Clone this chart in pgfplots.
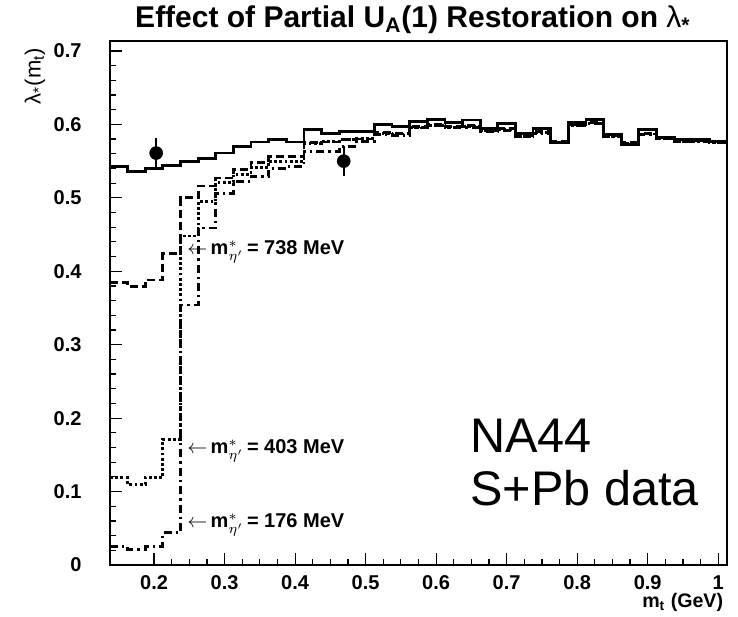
\documentclass[border=0pt]{standalone}
\usepackage{fontspec}
\setmainfont{Liberation Sans}
\usepackage{pgfplots}
\usepackage{pgfplotstable}
\pgfplotsset{compat=1.18}

\pgfplotstableread{
x solid dashed dotted dashdot
0.1375 0.543 0.385 0.119 0.025
0.1625 0.536 0.379 0.110 0.021
0.1875 0.540 0.388 0.119 0.025
0.2125 0.544 0.424 0.171 0.044
0.2375 0.549 0.500 0.448 0.354
0.2625 0.554 0.516 0.495 0.459
0.2875 0.561 0.527 0.521 0.506
0.3125 0.570 0.539 0.532 0.522
0.3375 0.576 0.548 0.541 0.529
0.3625 0.579 0.556 0.550 0.540
0.3875 0.576 0.556 0.550 0.543
0.4125 0.593 0.575 0.574 0.563
0.4375 0.588 0.576 0.577 0.563
0.4625 0.590 0.579 0.579 0.570
0.4875 0.590 0.580 0.581 0.577
0.5125 0.600 0.589 0.588 0.586
0.5375 0.597 0.588 0.587 0.585
0.5625 0.604 0.597 0.596 0.595
0.5875 0.607 0.600 0.599 0.598
0.6125 0.603 0.597 0.596 0.596
0.6375 0.606 0.598 0.597 0.596
0.6625 0.594 0.592 0.591 0.590
0.6875 0.601 0.594 0.593 0.592
0.7125 0.588 0.585 0.584 0.583
0.7375 0.594 0.590 0.589 0.588
0.7625 0.575 0.577 0.576 0.576
0.7875 0.603 0.600 0.599 0.598
0.8125 0.607 0.603 0.602 0.601
0.8375 0.586 0.585 0.584 0.583
0.8625 0.572 0.575 0.574 0.573
0.8875 0.593 0.588 0.587 0.586
0.9125 0.582 0.581 0.580 0.580
0.9375 0.579 0.577 0.577 0.576
0.9625 0.580 0.578 0.577 0.577
0.9875 0.577 0.576 0.575 0.575
1.0125 0.577 0.576 0.575 0.575
}\hist

\begin{document}
\begin{tikzpicture}
\begin{axis}[
  scale only axis,
  width=308.5pt, height=262pt,
  xmin=0.1375, xmax=1.0125,
  ymin=0, ymax=0.7136,
  clip=false,
  axis line style={line width=1pt},
  tick align=inside,
  xtick pos=bottom, ytick pos=left,
  xtick={0.2,0.3,0.4,0.5,0.6,0.7,0.8,0.9,1.0},
  xticklabels={0.2,0.3,0.4,0.5,0.6,0.7,0.8,0.9,1},
  ytick={0,0.1,0.2,0.3,0.4,0.5,0.6,0.7},
  yticklabels={0\hspace{-5.5pt},0.1,0.2,0.3,0.4,0.5,0.6,0.7},
  minor x tick num=3,
  minor y tick num=4,
  major tick length=6pt,
  minor tick length=3pt,
  every tick/.style={black, line width=0.6pt},
  xticklabel style={font=\fontsize{10}{12}\selectfont\bfseries, yshift=-1.7pt},
  yticklabel style={font=\fontsize{10}{12}\selectfont\bfseries, xshift=-10.7pt},
  title={\bfseries Effect of Partial U\textsubscript{A}(1) Restoration on {\mdseries λ}\textsubscript{*}},
  title style={font=\fontsize{15}{18}\selectfont, at={(axis description cs:0.491,1)}, anchor=base, yshift=0.5pt},
  xlabel={\bfseries m\textsubscript{t} (GeV)},
  xlabel style={font=\fontsize{9.8}{11}\selectfont, at={(axis description cs:1.005,-0.082)}, anchor=base east},
  ylabel={λ\textsubscript{*}(m\textsubscript{t})},
  ylabel style={font=\fontsize{11}{12}\selectfont, at={(axis description cs:-0.1216,1)}, anchor=east},
]
\addplot[const plot mark left, black, line width=1.4pt] table[x=x, y=solid] {\hist};
\addplot[const plot mark left, black, line width=1.4pt, dash pattern=on 4pt off 2pt] table[x=x, y=dashed] {\hist};
\addplot[const plot mark left, black, line width=1.4pt, dash pattern=on 1.4pt off 1.2pt] table[x=x, y=dotted] {\hist};
\addplot[const plot mark left, black, line width=1.4pt, dash pattern=on 4pt off 2pt on 1.2pt off 2pt] table[x=x, y=dashdot] {\hist};
\addplot[only marks, black, mark=*, mark size=3.2pt,
  error bars/.cd, y dir=both, y explicit, error mark=none,
  error bar style={line width=1.2pt}]
  coordinates {(0.203,0.561) +- (0,0.021) (0.469,0.550) +- (0,0.020)};

\node[anchor=west, font=\fontsize{10}{12}\selectfont, inner sep=0pt] at (axis cs:0.2467,0.4264) {$\leftarrow$\,\textbf{m}$^{*}_{\eta'}$\,\textbf{= 738 MeV}};
\node[anchor=west, font=\fontsize{10}{12}\selectfont, inner sep=0pt] at (axis cs:0.2467,0.1557) {$\leftarrow$\,\textbf{m}$^{*}_{\eta'}$\,\textbf{= 403 MeV}};
\node[anchor=west, font=\fontsize{10}{12}\selectfont, inner sep=0pt] at (axis cs:0.2467,0.0545) {$\leftarrow$\,\textbf{m}$^{*}_{\eta'}$\,\textbf{= 176 MeV}};

\node[anchor=base west, font=\fontsize{24.3}{29}\selectfont, inner sep=0pt] at (axis cs:0.648,0.1526) {NA44};
\node[anchor=base west, font=\fontsize{24.3}{29}\selectfont, inner sep=0pt] at (axis cs:0.648,0.0817) {S+Pb data};

\path (rel axis cs:0,0) ++(-55pt,-25.5pt) coordinate (bl);
\path (rel axis cs:1,1) ++(5.5pt,20.5pt) coordinate (tr);
\end{axis}
\pgfresetboundingbox
\path[use as bounding box] (bl) rectangle (tr);
\end{tikzpicture}
\end{document}
